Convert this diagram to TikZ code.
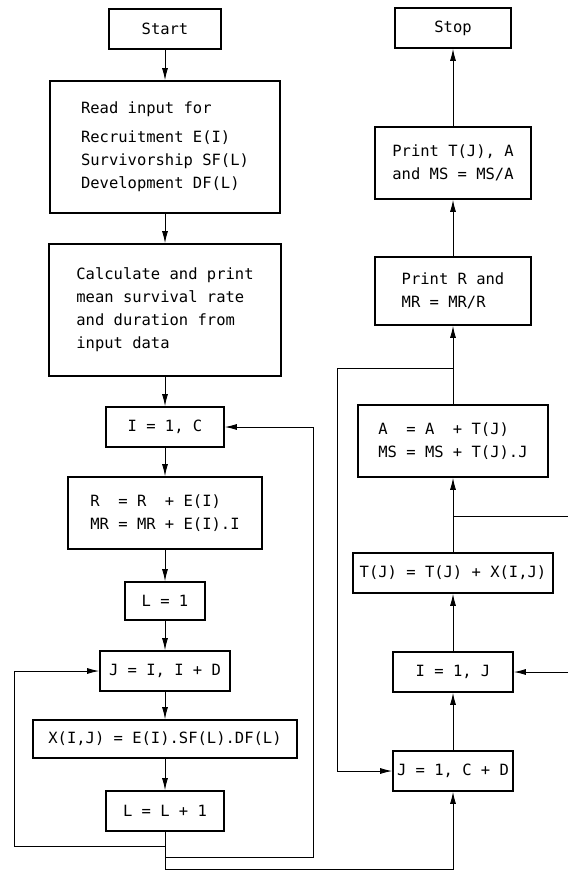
\documentclass[tikz,border=0pt]{standalone}
\usepackage{fontspec}
\setmainfont{DejaVu Sans Mono}
\usetikzlibrary{arrows.meta}
\tikzstyle{box}=[rectangle,draw=black,line width=1.6pt,inner sep=0mm,align=left,font=\fontsize{15.5}{23}\selectfont]
\tikzstyle{flow}=[->]
\tikzset{every picture/.style={
    line width=0.9pt,
    >={Latex[length=12pt,width=6pt]}
  }
}
\begin{document}
\begin{tikzpicture}[x=1pt,y=-1pt]
          \useasboundingbox (0,0) rectangle (568,873);
          \node[box, minimum width=112, minimum height=40] at (165,29) (start) {Start};
          \node[box, minimum width=230, minimum height=132] at (165,147) (read) {Read input for\\[6pt]Recruitment E(I)\\Survivorship SF(L)\\Development DF(L)};
          \node[box, minimum width=232, minimum height=132] at (165,310) (calc) {Calculate and print\\mean survival rate\\and duration from\\input data};
          \node[box, minimum width=118, minimum height=40] at (165,427) (ic) {I = 1, C};
          \node[box, minimum width=194, minimum height=72] at (165,513) (rsum) {R~~=~R~~+~E(I)\\MR = MR + E(I).I};
          \node[box, minimum width=80, minimum height=38] at (165,601) (lone) {L = 1};
          \node[box, minimum width=130, minimum height=40] at (165,671) (jloop) {J = I, I + D};
          \node[box, minimum width=264, minimum height=38] at (165,739) (xcalc) {X(I,J) = E(I).SF(L).DF(L)};
          \node[box, minimum width=118, minimum height=40] at (165,811) (lnext) {L = L + 1};
          \draw[flow] (start)--(read);
          \draw[flow] (read)--(calc);
          \draw[flow] (calc)--(ic);
          \draw[flow] (ic)--(rsum);
          \draw[flow] (rsum)--(lone);
          \draw[flow] (lone)--(jloop);
          \draw[flow] (jloop)--(xcalc);
          \draw[flow] (xcalc)--(lnext);
          \node[box, minimum width=116, minimum height=40] at (453,28) (stop) {Stop};
          \node[box, minimum width=156, minimum height=72] at (453,163) (printt) {Print T(J), A\\and MS = MS/A};
          \node[box, minimum width=156, minimum height=68] at (453,291) (printr) {Print R and\\MR = MR/R};
          \node[box, minimum width=190, minimum height=72] at (453,441) (asum) {A~~=~A~~+~T(J)\\MS = MS + T(J).J};
          \node[box, minimum width=200, minimum height=40] at (453,573) (tj) {T(J) = T(J) + X(I,J)};
          \node[box, minimum width=120, minimum height=40] at (453,672) (ij) {I = 1, J};
          \node[box, minimum width=120, minimum height=40] at (453,771) (jc) {J = 1, C + D};
          \draw[flow] (jc)--(ij);
          \draw[flow] (ij)--(tj);
          \draw[flow] (tj)--(asum);
          \draw[flow] (asum)--(printr);
          \draw[flow] (printr)--(printt);
          \draw[flow] (printt)--(stop);
          \coordinate (lb) at (14,846);
          \coordinate (mb) at (313,857);
          \coordinate (rb) at (453,869);
          \coordinate (lt) at (337,368);
          \coordinate (re1) at (568,516);
          \coordinate (re2) at (568,672);
          \draw[flow] (lnext.south) |- (lb) |- (jloop.west);
          \draw[flow] (lnext.south) |- (mb) |- (ic.east);
          \draw[flow] (lnext.south) |- (rb) -- (jc.south);
          \draw[flow] (asum.north |- lt) -- (lt) |- (jc.west);
          \draw (asum.south |- re1) -- (re1);
          \draw[flow] (re2) -- (ij.east);
        \end{tikzpicture}
\end{document}
